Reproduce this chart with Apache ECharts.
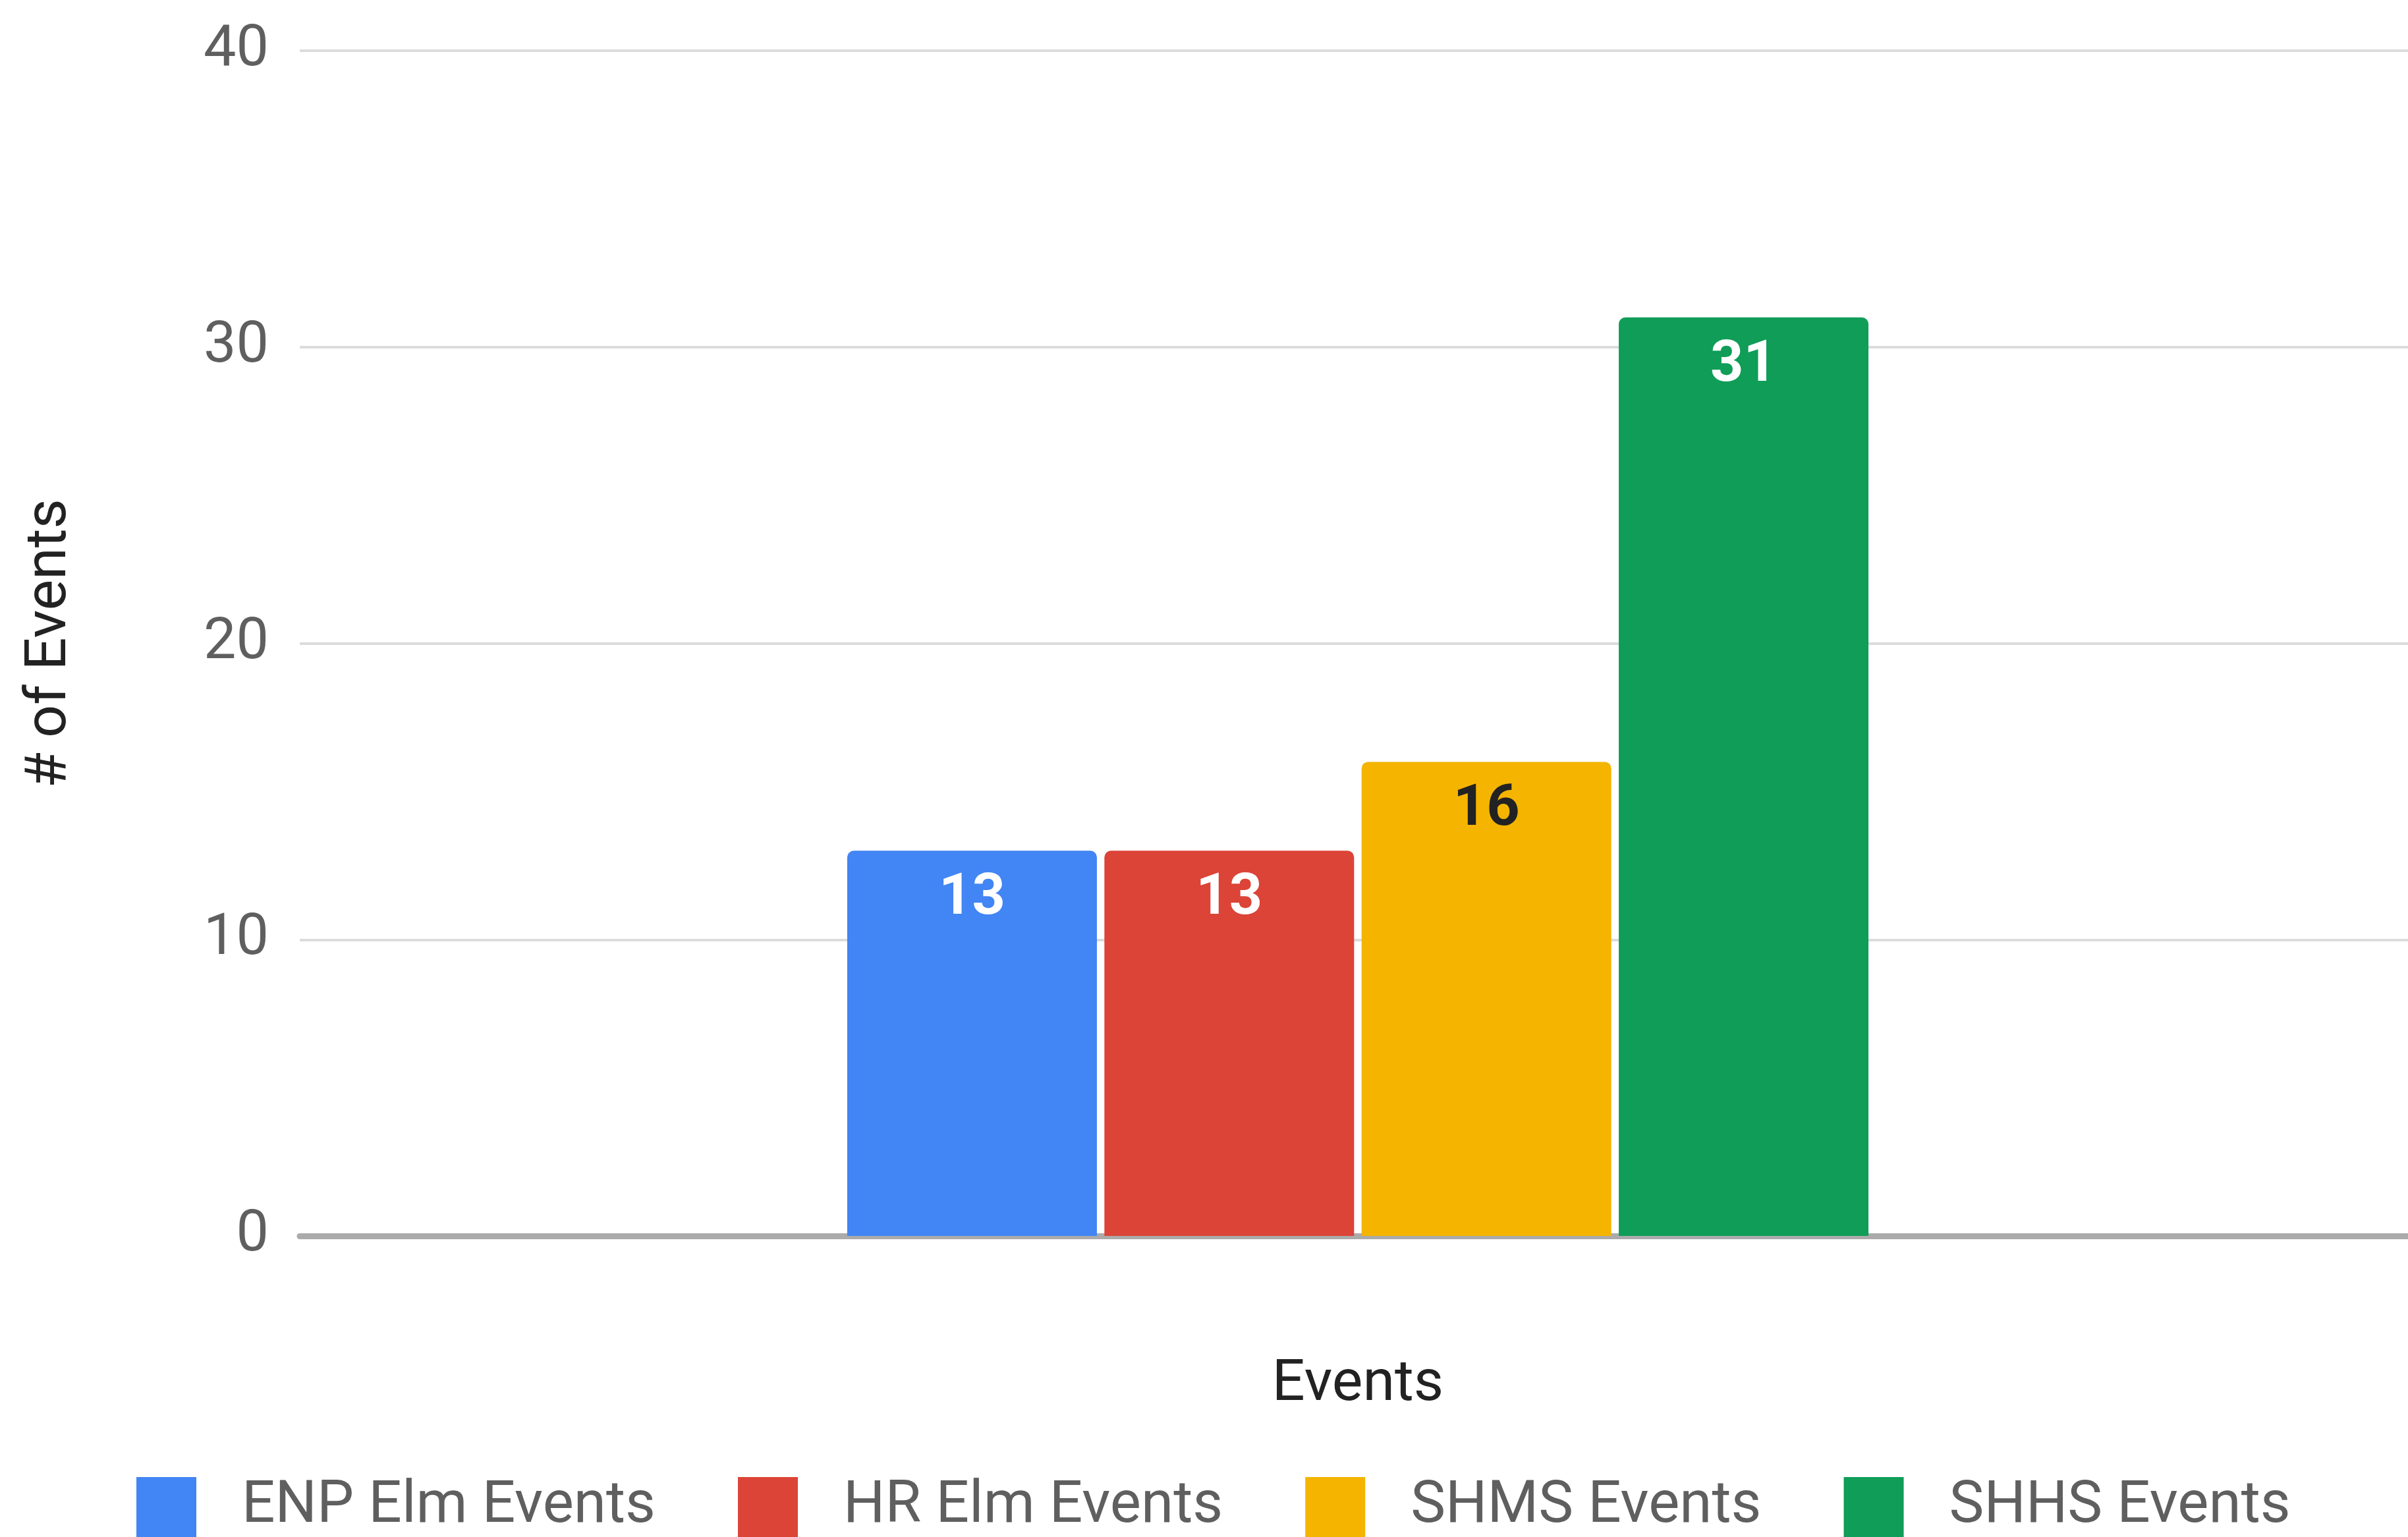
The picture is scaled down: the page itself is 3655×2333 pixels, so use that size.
<!DOCTYPE html>
<html>
<head>
<meta charset="utf-8">
<script src="https://cdn.jsdelivr.net/npm/echarts@6/dist/echarts.min.js"></script>
<style>
html,body{margin:0;padding:0;background:#fff;}
#chart{width:3655px;height:2333px;}
</style>
</head>
<body>
<div id="chart"></div>
<script>
const categories = [''];
const seriesNames = ['ENP Elm Events', 'HR Elm Events', 'SHMS Events', 'SHHS Events'];
const enpElm = [13];
const hrElm = [13];
const shms = [16];
const shhs = [31];
const yTicks = [0, 10, 20, 30, 40];

const colors = ['#4285F4', '#DB4437', '#F4B400', '#0F9D58'];
const labelColors = ['#ffffff', '#ffffff', '#222222', '#ffffff'];
const seriesData = [enpElm, hrElm, shms, shhs];
const FONT = 'Roboto';

const chart = echarts.init(document.getElementById('chart'));
chart.setOption({
  backgroundColor: '#ffffff',
  animation: false,
  color: colors,
  grid: { left: 455, right: -12, top: 77, bottom: 457, containLabel: false, outerBoundsMode: 'none' },
  legend: {
    data: seriesNames,
    left: 202,
    top: 2237,
    itemWidth: 91,
    itemHeight: 91,
    itemGap: 125,
    icon: 'rect',
    textStyle: { fontSize: 89, color: '#5f5f5f', fontFamily: FONT, padding: [0, 0, 0, 64] }
  },
  xAxis: {
    type: 'category',
    data: categories,
    name: 'Events',
    nameLocation: 'middle',
    nameGap: 183,
    nameTextStyle: { fontSize: 88, color: '#222222', fontFamily: FONT },
    axisLine: { show: true, lineStyle: { color: '#ababab', width: 9 } },
    axisTick: { show: false },
    axisLabel: { show: false }
  },
  yAxis: {
    type: 'value',
    min: yTicks[0],
    max: yTicks[yTicks.length - 1],
    interval: 10,
    name: '# of Events',
    nameLocation: 'middle',
    nameGap: 334,
    nameTextStyle: { fontSize: 88, color: '#222222', fontFamily: FONT },
    axisLine: { show: false },
    axisTick: { show: false },
    axisLabel: { fontSize: 88, color: '#5f5f5f', margin: 47, fontFamily: FONT },
    splitLine: { lineStyle: { color: '#dcdcdc', width: 4 } }
  },
  series: seriesNames.map((name, i) => ({
    name: name,
    type: 'bar',
    data: seriesData[i],
    barWidth: 379,
    barGap: '3%',
    itemStyle: { color: colors[i], borderRadius: [10, 10, 0, 0] },
    label: {
      show: true,
      position: 'insideTop',
      distance: 30,
      fontSize: 88,
      fontWeight: 'bold',
      fontFamily: FONT,
      color: labelColors[i]
    }
  }))
});
</script>
</body>
</html>
